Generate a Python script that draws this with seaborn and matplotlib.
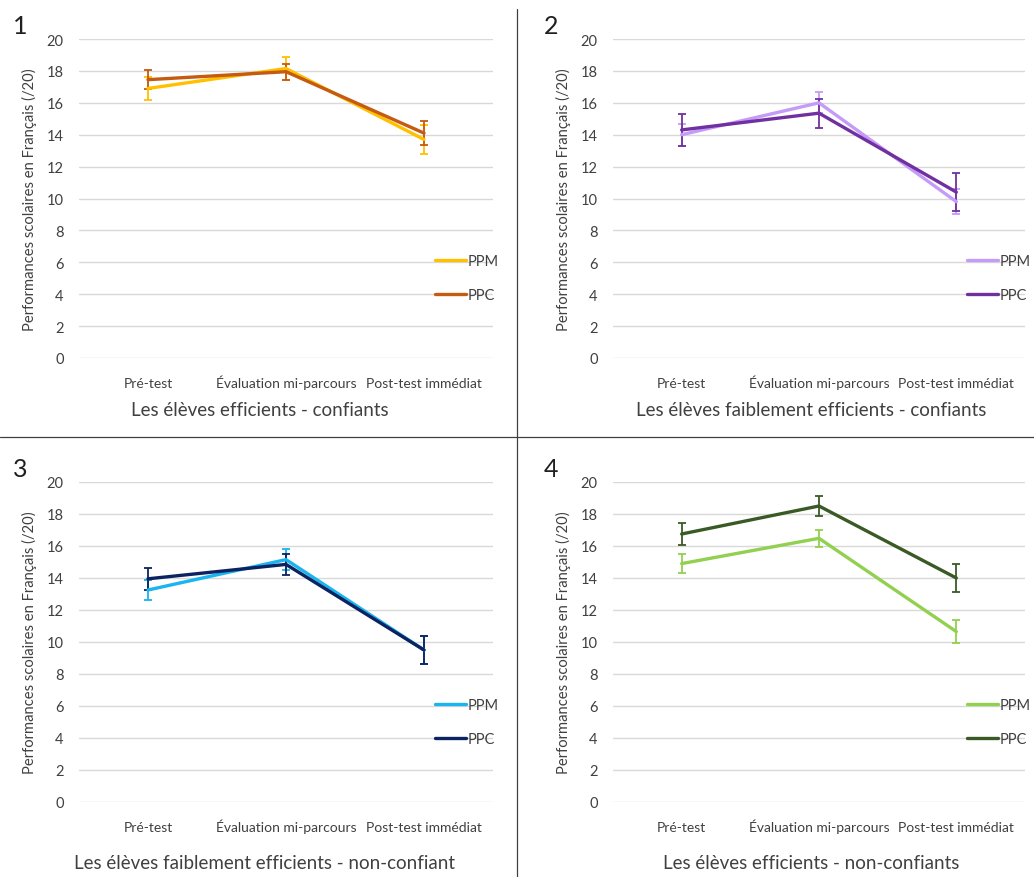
import matplotlib
matplotlib.use('Agg')
import matplotlib.pyplot as plt
import pandas as pd
import seaborn as sns
from matplotlib.lines import Line2D

# data
phases = ['Pré-test', 'Évaluation mi-parcours', 'Post-test immédiat']
groups = ['PPM', 'PPC']

p1_ppm = [16.9, 18.15, 13.7]
p1_ppm_err = [0.7, 0.7, 0.9]
p1_ppc = [17.45, 17.95, 14.1]
p1_ppc_err = [0.6, 0.5, 0.75]

p2_ppm = [14.0, 16.0, 9.8]
p2_ppm_err = [0.7, 0.65, 0.8]
p2_ppc = [14.3, 15.35, 10.4]
p2_ppc_err = [1.0, 0.9, 1.2]

p3_ppm = [13.25, 15.15, 9.5]
p3_ppm_err = [0.65, 0.65, 0.85]
p3_ppc = [13.95, 14.85, 9.5]
p3_ppc_err = [0.7, 0.65, 0.88]

p4_ppm = [14.9, 16.48, 10.65]
p4_ppm_err = [0.58, 0.55, 0.7]
p4_ppc = [16.75, 18.5, 14.0]
p4_ppc_err = [0.68, 0.62, 0.85]

titles = ['Les élèves efficients - confiants',
          'Les élèves faiblement efficients - confiants',
          'Les élèves faiblement efficients - non-confiant',
          'Les élèves efficients - non-confiants']
numbers = ['1', '2', '3', '4']
colors = [('#FFC000', '#C55A11'),
          ('#C49BF8', '#7030A0'),
          ('#1AB4EE', '#0B2360'),
          ('#92D050', '#3A5A25')]

panels = [(p1_ppm, p1_ppm_err, p1_ppc, p1_ppc_err),
          (p2_ppm, p2_ppm_err, p2_ppc, p2_ppc_err),
          (p3_ppm, p3_ppm_err, p3_ppc, p3_ppc_err),
          (p4_ppm, p4_ppm_err, p4_ppc, p4_ppc_err)]

sns.set_theme(style='white')
plt.rcParams['font.family'] = ['Lato', 'DejaVu Sans']

fig = plt.figure(figsize=(10.34, 8.78), dpi=100)
W, H = 1034, 878
# axes boxes in pixels: left, top, right, bottom
boxes = [(79, 40, 493, 359), (613, 40, 1025, 359),
         (79, 483, 493, 803), (613, 483, 1025, 803)]
title_x = [260, 811, 264, 811]
title_y = [411, 411, 864, 864]
num_pos = [(20, 27), (551, 27), (20, 470), (551, 470)]

for i, (ppm, ppm_err, ppc, ppc_err) in enumerate(panels):
    l, t, r, b = boxes[i]
    ax = fig.add_axes([l / W, 1 - b / H, (r - l) / W, (b - t) / H])
    df = pd.DataFrame({'phase': phases * 2,
                       'score': ppm + ppc,
                       'err': ppm_err + ppc_err,
                       'group': ['PPM'] * 3 + ['PPC'] * 3})
    pal = {'PPM': colors[i][0], 'PPC': colors[i][1]}
    for g in groups:
        sub = df[df.group == g]
        ax.errorbar(sub.phase, sub.score, yerr=sub.err, fmt='none',
                    ecolor=pal[g], elinewidth=1.3, capsize=3, capthick=1.3, zorder=3)
    sns.lineplot(data=df, x='phase', y='score', hue='group', hue_order=groups,
                 palette=pal, linewidth=2.4, sort=False, ax=ax, zorder=4)
    ax.set_ylim(0, 20)
    ax.set_xlim(-0.5, 2.5)
    ax.set_yticks(range(0, 21, 2))
    ax.grid(axis='y', color='#D9D9D9', linewidth=1)
    ax.set_axisbelow(True)
    for s in ax.spines.values():
        s.set_visible(False)
    ax.tick_params(axis='both', length=0, colors='#404040')
    ax.tick_params(axis='x', pad=21, labelsize=10)
    ax.tick_params(axis='y', pad=11, labelsize=10.5)
    for lab in ax.get_xticklabels():
        lab.set_va('baseline')
    ax.set_xlabel('')
    ax.set_ylabel('Performances scolaires en Français (/20)', fontsize=10.6, color='#404040',
                  labelpad=7)
    ax.legend(loc='center right', bbox_to_anchor=(1.045, 0.25), frameon=False,
              fontsize=10.5, handlelength=2.1, handletextpad=0.1,
              labelspacing=1.35, labelcolor='#404040')
    fig.text(title_x[i] / W, 1 - title_y[i] / H, titles[i], ha='center', va='center',
             fontsize=13.5, color='#404040')
    fig.text(num_pos[i][0] / W, 1 - num_pos[i][1] / H, numbers[i], ha='center',
             va='center', fontsize=18, color='#202020')

# panel dividers
fig.add_artist(Line2D([517 / W, 517 / W], [0, 1 - 10 / H], color='#404040', lw=0.9))
fig.add_artist(Line2D([0, 1], [1 - 438 / H, 1 - 438 / H], color='#404040', lw=0.9))

fig.savefig('out.png', dpi=100)
